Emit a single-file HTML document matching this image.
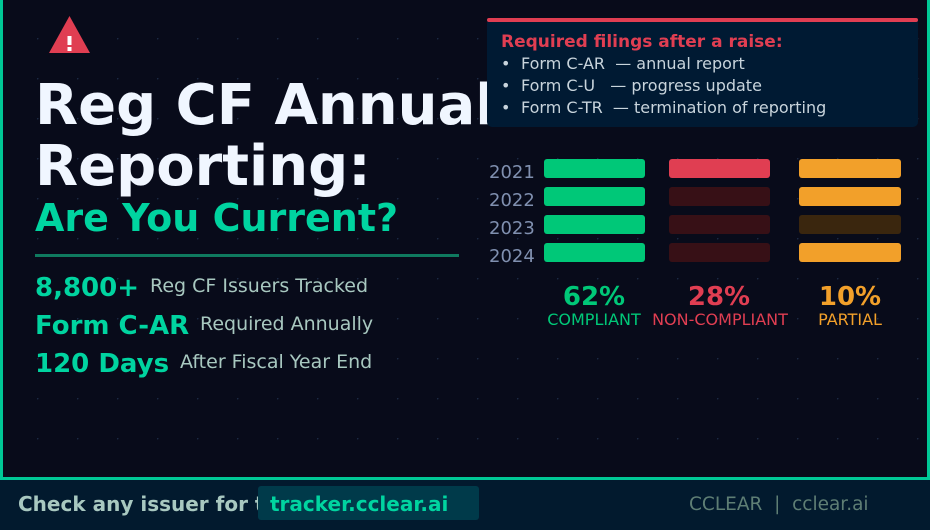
<!DOCTYPE html>
<html><head><meta charset="utf-8"><style>
html,body{margin:0;padding:0;background:#080b1a;}
svg{display:block;font-family:"DejaVu Sans","Liberation Sans",sans-serif;}
text{white-space:pre;}
</style></head><body>
<svg width="930" height="530" viewBox="0 0 930 530" xmlns="http://www.w3.org/2000/svg" xml:space="preserve">
<defs>
<pattern id="dots" x="37" y="38" width="40" height="40" patternUnits="userSpaceOnUse">
<circle cx="0.5" cy="0.5" r="1" fill="#1c2a44"/>
</pattern>
</defs>
<rect width="930" height="530" fill="#080b1a"/>
<rect x="0" y="0" width="930" height="478" fill="url(#dots)"/>
<rect x="0" y="0" width="3" height="480" fill="#00c896"/>
<rect x="927" y="0" width="3" height="480" fill="#00c896"/>
<rect x="0" y="477" width="930" height="3" fill="#00c896"/>
<rect x="0" y="480" width="930" height="50" fill="#021a2e"/>

<polygon points="69.5,16 90,53 49,53" fill="#e03e52"/>
<rect x="67.5" y="36" width="4" height="9" fill="#fff"/>
<rect x="67.5" y="47" width="4" height="4" fill="#fff"/>

<text x="35" y="124" font-size="56" font-weight="bold" fill="#f0f6ff">Reg CF Annual</text>
<text x="35" y="185" font-size="56" font-weight="bold" fill="#f0f6ff">Reporting:</text>
<text x="35" y="231" font-size="38" font-weight="bold" fill="#00d4a0">Are You Current?</text>
<rect x="35" y="254" width="424" height="3" fill="#0f7a5f"/>

<text x="35" y="296" font-size="26" font-weight="bold" fill="#00d4a0">8,800+</text>
<text x="150" y="292" font-size="19" fill="#a8c8c0">Reg CF Issuers Tracked</text>
<text x="35" y="334" font-size="26" font-weight="bold" fill="#00d4a0">Form C-AR</text>
<text x="200" y="330" font-size="19" fill="#a8c8c0">Required Annually</text>
<text x="35" y="372" font-size="26" font-weight="bold" fill="#00d4a0">120 Days</text>
<text x="180" y="368" font-size="19" fill="#a8c8c0">After Fiscal Year End</text>

<rect x="487" y="18" width="431" height="109" rx="5" fill="#001a33"/>
<rect x="487" y="18" width="431" height="4" rx="2" fill="#e03e52"/>
<text x="501" y="47" font-size="17" font-weight="bold" fill="#e03e52">Required filings after a raise:</text>
<g font-size="16" fill="#c8d4dc">
<text x="501" y="69">•</text><text x="521" y="69">Form C-AR  — annual report</text>
<text x="501" y="91">•</text><text x="521" y="91">Form C-U   — progress update</text>
<text x="501" y="113">•</text><text x="521" y="113">Form C-TR  — termination of reporting</text>
</g>

<g font-size="18" fill="#8090b0">
<text x="489" y="178">2021</text>
<text x="489" y="206">2022</text>
<text x="489" y="234">2023</text>
<text x="489" y="262">2024</text>
</g>
<g>
<rect x="544" y="159" width="101" height="19" rx="3" fill="#00c878"/>
<rect x="544" y="187" width="101" height="19" rx="3" fill="#00c878"/>
<rect x="544" y="215" width="101" height="19" rx="3" fill="#00c878"/>
<rect x="544" y="243" width="101" height="19" rx="3" fill="#00c878"/>
<rect x="669" y="159" width="101" height="19" rx="3" fill="#e03e52"/>
<rect x="669" y="187" width="101" height="19" rx="3" fill="#371016"/>
<rect x="669" y="215" width="101" height="19" rx="3" fill="#371016"/>
<rect x="669" y="243" width="101" height="19" rx="3" fill="#371016"/>
<rect x="799" y="159" width="102" height="19" rx="3" fill="#f2a02a"/>
<rect x="799" y="187" width="102" height="19" rx="3" fill="#f2a02a"/>
<rect x="799" y="215" width="102" height="19" rx="3" fill="#3a260e"/>
<rect x="799" y="243" width="102" height="19" rx="3" fill="#f2a02a"/>
</g>
<g text-anchor="middle">
<text x="594" y="305" font-size="26" font-weight="bold" fill="#00c878">62%</text>
<text x="594" y="325" font-size="16" fill="#00c878">COMPLIANT</text>
<text x="719" y="305" font-size="26" font-weight="bold" fill="#e03e52">28%</text>
<text x="720" y="325" font-size="16" fill="#e03e52">NON-COMPLIANT</text>
<text x="850" y="305" font-size="26" font-weight="bold" fill="#f2a02a">10%</text>
<text x="850" y="325" font-size="16" fill="#f2a02a">PARTIAL</text>
</g>

<text x="18" y="511" font-size="20" font-weight="bold" fill="#a8c8c0">Check any issuer for tracker</text>
<rect x="258" y="486" width="221" height="34" rx="3" fill="#003a4a"/>
<text x="270" y="511" font-size="20" font-weight="bold" fill="#00d4a0">tracker.cclear.ai</text>
<text x="689" y="510" font-size="18.5" fill="#5e7e74">CCLEAR  |  cclear.ai</text>
</svg>
</body></html>
